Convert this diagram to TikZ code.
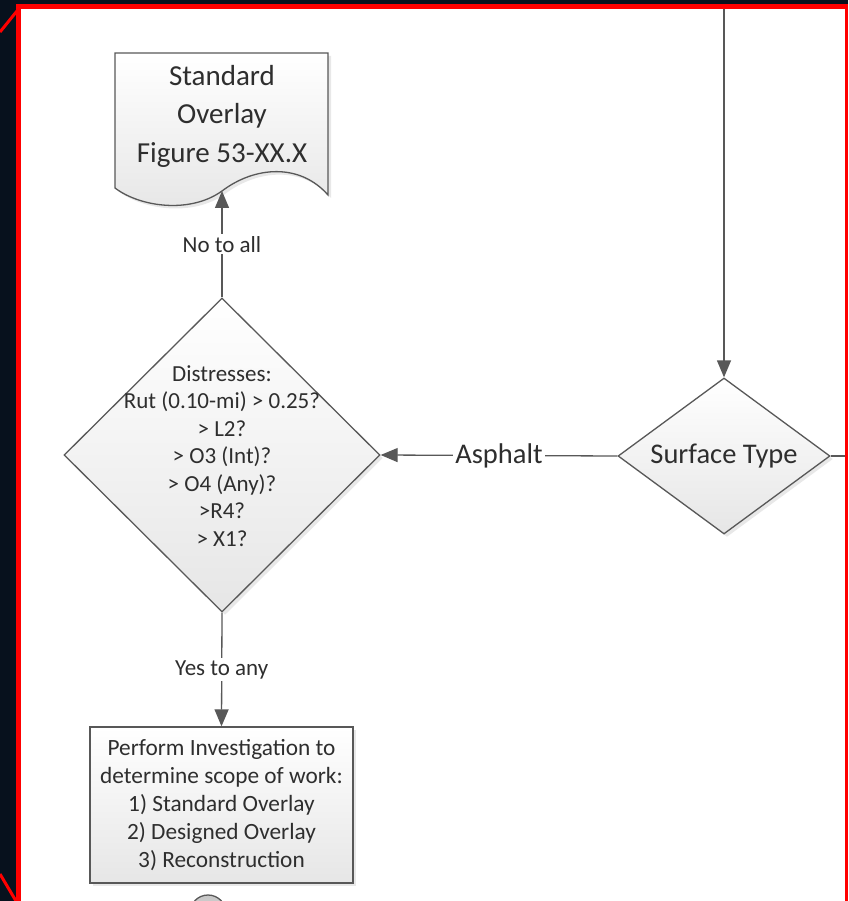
\documentclass[tikz,border=0pt]{standalone}
\usepackage{fontspec}
\setmainfont{Carlito}
\usetikzlibrary{shapes.geometric, arrows.meta, shadows}

\definecolor{navy}{HTML}{07111D}
\definecolor{lineg}{HTML}{585858}
\definecolor{txt}{HTML}{2E2E2E}
\definecolor{shapefill}{HTML}{E6E6E6}

\tikzset{
  flowshape/.style={draw=lineg, line width=1.3pt, top color=white, bottom color=shapefill,
    drop shadow={opacity=0.18, shadow xshift=3pt, shadow yshift=-3pt}},
  connector/.style={draw=lineg, line width=1.3pt},
  arrowed/.style={connector, -{Triangle[length=17pt, width=14pt]}},
  edgelabel/.style={fill=white, text=txt, inner sep=2pt, font=\fontsize{23}{27}\selectfont},
  bodytext/.style={text=txt, align=center},
  frameline/.style={draw=red, line width=5pt},
}

\begin{document}
\begin{tikzpicture}[x=1pt, y=-1pt]
  \useasboundingbox (0,0) rectangle (848,901);
  \begin{scope}
    \clip (0,0) rectangle (848,901);

    % page background and red frame
    \fill[navy] (0,0) rectangle (848,901);
    \fill[white] (18,6) rectangle (848,901);
    \draw[frameline] (18.5,901) -- (18.5,6.5) -- (848,6.5);
    \draw[frameline, line width=3pt] (17,11) -- (0,32);
    \draw[frameline, line width=3pt] (0,874) -- (16,901);

    % document shape
    \path[flowshape] (115,53) -- (328,53) -- (328,195)
      .. controls (300,163) and (255,166) .. (222,191)
      .. controls (190,214) and (140,207) .. (115,188) -- cycle;
    \node[bodytext, font=\fontsize{29}{38.5}\selectfont] (doc) at (222,116)
      {Standard\\Overlay\\Figure 53-XX.X};
    \coordinate (docin) at (222,191);

    % decisions
    \node[flowshape, diamond, aspect=1.36, minimum width=212pt, minimum height=156pt,
      inner sep=0pt, bodytext, font=\fontsize{28.5}{33}\selectfont] (surface) at (724,456)
      {Surface Type};
    \node[flowshape, diamond, minimum width=316pt, minimum height=314pt, inner sep=0pt]
      (distress) at (222,455) {};
    \node[bodytext, font=\fontsize{23}{27.5}\selectfont] (distresstext) at (222,456)
      {Distresses:\\Rut (0.10-mi) > 0.25?\\> L2?\\> O3 (Int)?\\> O4 (Any)?\\>R4?\\> X1?};

    % process box
    \node[flowshape, minimum width=263pt, minimum height=156pt, bodytext,
      font=\fontsize{23.3}{27.8}\selectfont] (investigate) at (221.5,805)
      {Perform Investigation to\\determine scope of work:\\1) Standard Overlay\\2) Designed Overlay\\3) Reconstruction};

    % off-page connector
    \node[circle, draw=lineg, line width=1.3pt, top color=gray!45, bottom color=gray!20,
      minimum size=36pt, inner sep=0pt] (offpage) at (208,913) {};

    % connectors
    \coordinate (topin) at (724,9);
    \coordinate (rightout) at (848,456);
    \draw[arrowed] (topin) -- (surface.north);
    \draw[connector] (surface.east) -- (rightout);
    \draw[arrowed] (surface.west) -- node[edgelabel, font=\fontsize{28.5}{33}\selectfont] {Asphalt} (distress.east);
    \draw[arrowed] (distress.north) -- node[edgelabel] {No to all} (docin);
    \draw[arrowed] (distress.south) -- node[edgelabel] {Yes to any} (investigate.north);

    % right frame edge, drawn over the outgoing line
    \draw[frameline, line width=3pt] (846.5,6.5) -- (846.5,901);
  \end{scope}
\end{tikzpicture}
\end{document}
